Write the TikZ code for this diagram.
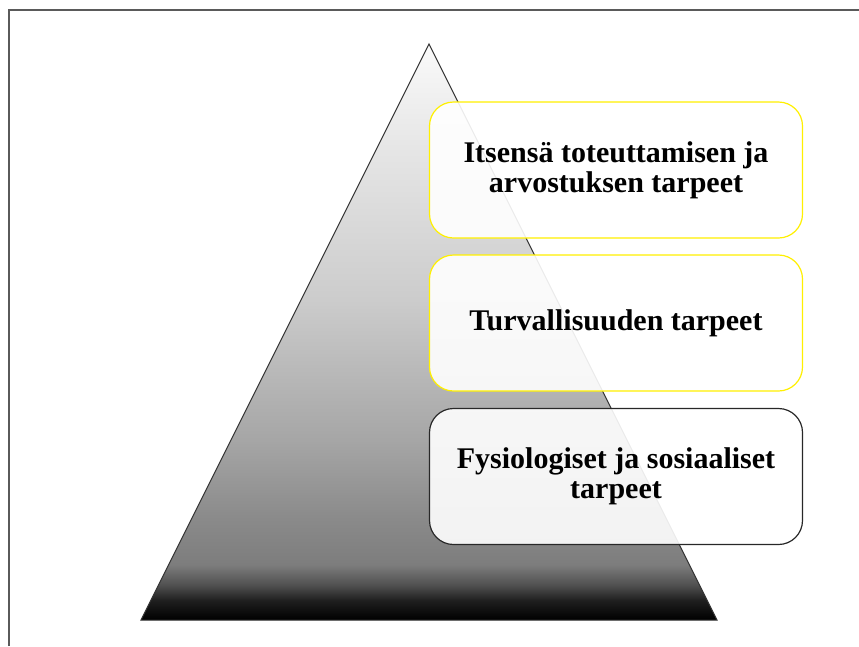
\documentclass[tikz,border=0pt]{standalone}
\usepackage{fontspec}
\setmainfont{Liberation Serif}
\definecolor{frameg}{RGB}{90,90,90}
\definecolor{edgeg}{RGB}{50,50,50}
\definecolor{boxyellow}{RGB}{255,240,0}
\definecolor{boxdark}{RGB}{40,40,40}
\pgfdeclareverticalshading{pyrshade}{100bp}{%
  color(0bp)=(black);
  color(25bp)=(black);
  color(26.7bp)=(black!88);
  color(28bp)=(black!69);
  color(29.8bp)=(black!51);
  color(33.7bp)=(black!46);
  color(40.6bp)=(black!35);
  color(52.8bp)=(black!20);
  color(65.8bp)=(black!10);
  color(75bp)=(black!2);
  color(100bp)=(black!2)}
\tikzset{
  framel/.style={draw=frameg, line width=1.6pt},
  pyramid/.style={draw=edgeg, line width=1pt, shading=pyrshade},
  needbox/.style={rounded corners=24pt, fill=white, fill opacity=0.9, text opacity=1,
    line width=1.2pt, minimum width=373pt, minimum height=136pt, inner sep=0pt,
    align=center, font=\fontsize{30}{30}\selectfont\bfseries},
}
\begin{document}
\begin{tikzpicture}[x=1pt,y=-1pt]
\useasboundingbox (0,0) rectangle (859,646);
\coordinate (fa) at (9,646);
\coordinate (fb) at (9,10);
\coordinate (fc) at (859,10);
\draw[framel] (fa) -- (fb) -- (fc);
\coordinate (apex) at (429,44);
\coordinate (bl) at (141,620);
\coordinate (br) at (717,620);
\path[pyramid] (apex) -- (br) -- (bl) -- cycle;
\node[needbox, draw=boxyellow] (b1) at (616,170) {Itsensä toteuttamisen ja\\arvostuksen tarpeet};
\node[needbox, draw=boxyellow] (b2) at (616,323) {Turvallisuuden tarpeet};
\node[needbox, draw=boxdark] (b3) at (616,476.5) {Fysiologiset ja sosiaaliset\\tarpeet};
\end{tikzpicture}
\end{document}
